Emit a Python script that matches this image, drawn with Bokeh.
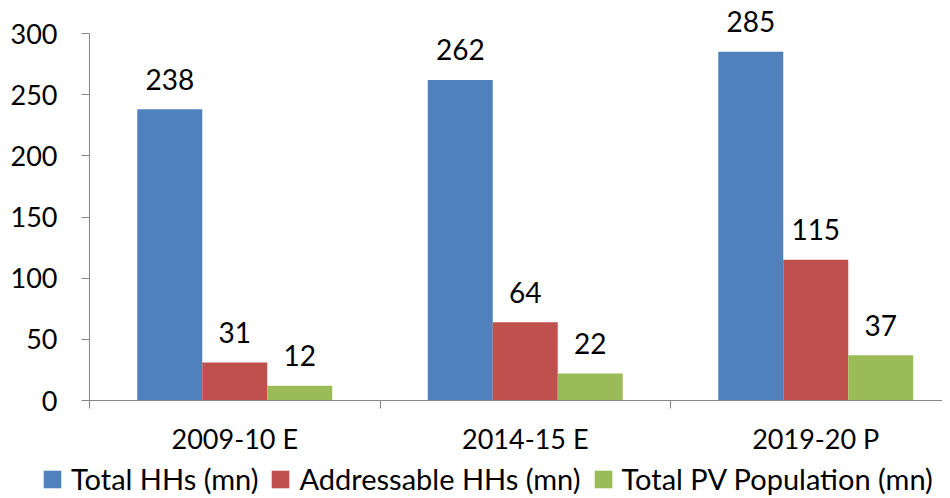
from bokeh.plotting import figure
from bokeh.models import ColumnDataSource, FixedTicker, Legend, LegendItem, Range1d
from bokeh.transform import dodge
from bokeh.core.properties import value
from bokeh.embed import file_html
from bokeh.resources import INLINE

categories = ["2009-10 E", "2014-15 E", "2019-20 P"]
series_names = ["Total HHs (mn)", "Addressable HHs (mn)", "Total PV Population (mn)"]
total_hhs = [238, 262, 285]
addressable_hhs = [31, 64, 115]
pv_population = [12, 22, 37]
colors = ["#4F81BD", "#C0504D", "#9BBB59"]
y_ticks = [0, 50, 100, 150, 200, 250, 300]

FONT = "Lato"
W, H = 942, 496
X0, Y0 = 89, 400          # pixel position of data origin
PX_X, PX_Y = 290.5, 1.2233  # pixels per unit

xc = [i + 0.5 for i in range(len(categories))]
src = ColumnDataSource(dict(x=xc, s0=total_hhs, s1=addressable_hhs, s2=pv_population,
                            l0=[str(v) for v in total_hhs],
                            l1=[str(v) for v in addressable_hhs],
                            l2=[str(v) for v in pv_population]))

p = figure(width=W, height=H, output_backend="svg", toolbar_location=None,
           x_range=Range1d(-X0 / PX_X, (W - X0) / PX_X),
           y_range=Range1d(-(H - Y0) / PX_Y, Y0 / PX_Y),
           min_border_left=0, min_border_right=0, min_border_top=0, min_border_bottom=0)
p.outline_line_color = None
p.xgrid.grid_line_color = None
p.ygrid.grid_line_color = None

bw = 0.2237
offs = [-bw, 0, bw]
renderers = []
for i, key in enumerate(["s0", "s1", "s2"]):
    r = p.vbar(x=dodge("x", offs[i], range=p.x_range), top=key, width=bw, bottom=0,
               source=src, fill_color=colors[i], line_color=None)
    renderers.append(r)
    p.text(x=dodge("x", offs[i], range=p.x_range), y=key, text="l" + str(i), source=src,
           text_align="center", text_baseline="middle", y_offset=-30,
           text_font=value(FONT), text_font_size="28px", text_color="#000000")

# y axis
ya = p.yaxis[0]
ya.fixed_location = 0
ya.ticker = FixedTicker(ticks=y_ticks)
ya.bounds = (0, 300)
ya.axis_line_color = "#868686"
ya.major_tick_line_color = "#868686"
ya.major_tick_in = 0
ya.major_tick_out = 8
ya.minor_tick_line_color = None
ya.major_label_standoff = 24
ya.major_label_text_font = FONT
ya.major_label_text_font_size = "27px"
ya.major_label_text_color = "#000000"

# x axis
xa = p.xaxis[0]
xa.fixed_location = 0
xa.bounds = (0, 3)
xa.ticker = FixedTicker(ticks=xc, minor_ticks=[0, 1, 2, 3])
xa.major_label_overrides = {x: c for x, c in zip(xc, categories)}
xa.axis_line_color = "#868686"
xa.major_tick_line_color = None
xa.major_tick_out = 0
xa.major_tick_in = 0
xa.minor_tick_line_color = "#868686"
xa.minor_tick_in = 0
xa.minor_tick_out = 8
xa.major_label_standoff = 13
xa.major_label_text_font = FONT
xa.major_label_text_font_size = "27px"
xa.major_label_text_color = "#000000"

legend = Legend(items=[LegendItem(label=n, renderers=[r]) for n, r in zip(series_names, renderers)],
                orientation="horizontal", location=(41, 0),
                label_text_font=FONT, label_text_font_size="29px", label_text_color="#000000",
                glyph_width=22, glyph_height=22, spacing=11, label_standoff=8,
                padding=0, margin=0, border_line_color=None, background_fill_alpha=0)
p.add_layout(legend, "center")

open("out.html", "w").write(file_html(p, INLINE))
